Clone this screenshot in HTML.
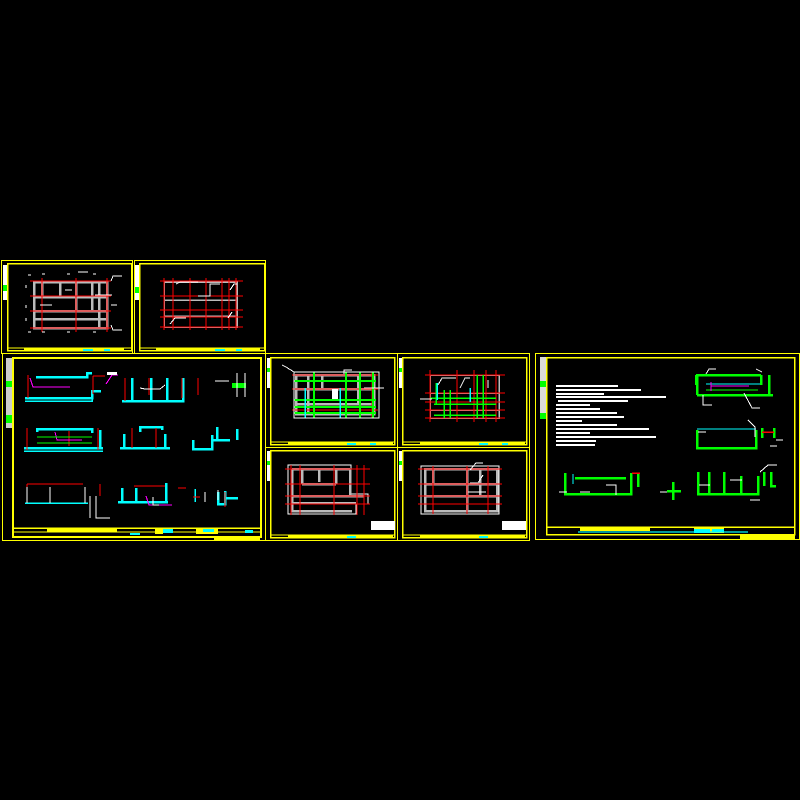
<!DOCTYPE html>
<html><head><meta charset="utf-8"><style>
html,body{margin:0;padding:0;background:#000;width:800px;height:800px;overflow:hidden}
svg{display:block}
</style></head><body>
<svg width="800" height="800" viewBox="0 0 800 800" xmlns="http://www.w3.org/2000/svg" shape-rendering="crispEdges" fill="none">
<rect width="800" height="800" fill="#000"/>

<!-- ===== Sheet A ===== -->
<g stroke="#ff0" stroke-width="1">
<rect x="1.5" y="260.5" width="131" height="93"/>
<rect x="7.5" y="263.5" width="124" height="87" stroke-width="1.5"/>
<line x1="7" y1="348" x2="131" y2="348"/>
</g>
<rect x="24" y="348" width="100" height="3" fill="#ff0"/>
<rect x="83" y="349" width="10" height="2" fill="#0ff"/><rect x="104" y="349" width="6" height="2" fill="#0ff"/>
<rect x="3" y="265" width="4" height="35" fill="#fff"/><rect x="3" y="285" width="4" height="6" fill="#0f0"/>
<g stroke="#bbb" stroke-width="2.5">
<rect x="34" y="282" width="73" height="46"/>
<line x1="34" y1="297" x2="107" y2="297"/><line x1="34" y1="311" x2="107" y2="311"/><line x1="34" y1="319" x2="107" y2="319"/>
<line x1="42" y1="282" x2="42" y2="297"/><line x1="60" y1="282" x2="60" y2="297"/><line x1="76" y1="282" x2="76" y2="311"/><line x1="92" y1="282" x2="92" y2="311"/><line x1="99" y1="282" x2="99" y2="328"/>
</g>
<g stroke="#f00" stroke-width="1">
<line x1="30" y1="281" x2="111" y2="281"/><line x1="30" y1="296" x2="111" y2="296"/><line x1="30" y1="311" x2="111" y2="311"/><line x1="30" y1="328" x2="111" y2="328"/>
<line x1="42" y1="278" x2="42" y2="332"/><line x1="76" y1="278" x2="76" y2="332"/><line x1="107" y1="278" x2="107" y2="332"/>
</g>
<g stroke="#fff" stroke-width="1">
<path d="M111 281 L113 276 L122 276"/><path d="M111 325 L113 330 L122 330"/><path d="M40 305 L52 305"/><path d="M65 290 L72 290"/><path d="M95 295 L112 295"/><path d="M78 272 L88 272"/><path d="M111 305 L117 305"/>
<path d="M28 275 h3 M42 274 h3 M67 274 h3 M93 274 h3 M28 332 h3 M42 332 h3 M67 332 h3 M93 332 h3 M26 285 v3 M26 305 v3 M26 318 v3"/>
</g>

<!-- ===== Sheet B ===== -->
<g stroke="#ff0" stroke-width="1">
<rect x="134.5" y="260.5" width="131" height="93"/>
<rect x="139.5" y="263.5" width="125" height="87" stroke-width="1.5"/>
<line x1="139" y1="348" x2="264" y2="348"/>
</g>
<rect x="156" y="348" width="104" height="3" fill="#ff0"/>
<rect x="215" y="349" width="10" height="2" fill="#0ff"/><rect x="236" y="349" width="6" height="2" fill="#0ff"/>
<rect x="135" y="265" width="4" height="35" fill="#fff"/><rect x="135" y="287" width="4" height="6" fill="#0f0"/>
<g stroke="#bbb" stroke-width="1.5">
<rect x="164" y="282" width="73" height="45"/>
<line x1="164" y1="300" x2="237" y2="300"/><line x1="164" y1="316" x2="237" y2="316"/>
</g>
<g stroke="#f00" stroke-width="1.2">
<line x1="160" y1="281" x2="243" y2="281"/><line x1="160" y1="296" x2="243" y2="296"/><line x1="160" y1="310" x2="243" y2="310"/><line x1="160" y1="317" x2="243" y2="317"/><line x1="160" y1="327" x2="243" y2="327"/>
<line x1="164" y1="278" x2="164" y2="330"/><line x1="173" y1="278" x2="173" y2="330"/><line x1="190" y1="278" x2="190" y2="330"/><line x1="206" y1="278" x2="206" y2="330"/><line x1="222" y1="278" x2="222" y2="330"/><line x1="229" y1="278" x2="229" y2="330"/><line x1="236" y1="278" x2="236" y2="330"/>
</g>
<g stroke="#fff" stroke-width="1"><path d="M176 284 L180 282 L198 282"/><path d="M198 296 L210 296 L210 284 L220 284"/><path d="M170 324 L175 318 L186 318"/><path d="M230 290 L234 284 L237 284"/><path d="M228 318 L232 312"/></g>

<!-- ===== Sheet C ===== -->
<g stroke="#ff0" stroke-width="1">
<rect x="2.5" y="353.5" width="263" height="187"/>
<rect x="13" y="358" width="248" height="179" stroke-width="2"/>
<line x1="13" y1="528" x2="261" y2="528" stroke-width="1.5"/>
<line x1="13" y1="532" x2="261" y2="532"/>
</g>
<rect x="47" y="528" width="70" height="4" fill="#ff0"/><rect x="155" y="528" width="8" height="6" fill="#ff0"/>
<rect x="163" y="529" width="10" height="4" fill="#0ff"/><rect x="196" y="528" width="22" height="6" fill="#ff0"/>
<rect x="203" y="529" width="11" height="3" fill="#0ff"/><rect x="245" y="530" width="8" height="3" fill="#0ff"/>
<rect x="130" y="533" width="10" height="2" fill="#0ff"/><rect x="214" y="536" width="46" height="4" fill="#ff0"/>
<rect x="6" y="358" width="6" height="70" fill="#fff" opacity="0.8"/><rect x="6" y="381" width="6" height="6" fill="#0f0"/><rect x="6" y="415" width="6" height="8" fill="#0f0"/>
<g stroke="#0ff" stroke-width="2.5">
<path d="M25 398 H92 V391 H101 M36 377 H87 V373 H92"/>
<path d="M122 401 H183 V378"/><line x1="132" y1="378" x2="132" y2="401"/><line x1="151" y1="378" x2="151" y2="401"/><line x1="167" y1="378" x2="167" y2="401"/>
<path d="M24 448 H103"/><path d="M37 432 V429 H92 V433"/><line x1="100" y1="430" x2="100" y2="448"/>
<path d="M120 448 H170"/><path d="M124 434 V448 M140 432 V427 H162 V430 M165 434 V448"/>
<path d="M193 440 V449 H212 V435 M212 440 H230"/><line x1="217" y1="427" x2="217" y2="441"/><line x1="237" y1="429" x2="237" y2="440"/>
<path d="M118 502 H168"/><path d="M122 488 V502 M166 483 V502 M136 488 V502"/>
<path d="M218 492 V504 H225 V491 M226 498 H238"/>
</g>
<g stroke="#0ff" stroke-width="1.5"><path d="M25 401 H92 V395"/><path d="M24 451 H103"/><path d="M25 503 H88"/><line x1="195" y1="489" x2="195" y2="502"/></g>
<g stroke="#f00" stroke-width="1.2">
<line x1="28" y1="375" x2="28" y2="398"/><line x1="93" y1="376" x2="93" y2="394"/><path d="M93 376 H105"/>
<line x1="125" y1="378" x2="125" y2="401"/><line x1="149" y1="378" x2="149" y2="395"/><line x1="182" y1="378" x2="182" y2="398"/><line x1="198" y1="378" x2="198" y2="395"/>
<line x1="27" y1="428" x2="27" y2="450"/><line x1="98" y1="428" x2="98" y2="450"/><line x1="69" y1="431" x2="69" y2="446"/>
<line x1="132" y1="428" x2="132" y2="448"/><line x1="156" y1="428" x2="156" y2="448"/>
<line x1="27" y1="484" x2="27" y2="502"/><path d="M27 484 H83"/><line x1="100" y1="484" x2="100" y2="496"/>
<path d="M134 486 H165"/><path d="M178 488 H186"/>
<line x1="193" y1="497" x2="200" y2="497"/><line x1="225" y1="492" x2="225" y2="507"/>
</g>
<g stroke="#f0f" stroke-width="1"><path d="M30 378 L33 387 H70"/><path d="M55 432 L57 440 H82"/><path d="M146 496 L149 505 H172"/><path d="M106 384 L112 375 H118"/></g>
<g stroke="#0f0" stroke-width="1"><line x1="37" y1="437" x2="92" y2="437"/><line x1="37" y1="443" x2="92" y2="443"/></g>
<rect x="107" y="372" width="10" height="3" fill="#fff"/><rect x="232" y="383" width="14" height="5" fill="#0f0"/>
<g stroke="#fff" stroke-width="1">
<path d="M140 388 L145 389 H160 L165 385"/><path d="M215 381 H229"/><line x1="237" y1="373" x2="237" y2="397"/><line x1="245" y1="373" x2="245" y2="397"/>
<path d="M27 487 V503 M50 487 V503 M85 487 V503"/><path d="M90 496 V518 M96 496 V518 H110"/>
<path d="M153 497 V505 H159"/><path d="M205 492 V502 M218 490 V500"/>
</g>

<!-- ===== Sheet D (four subsheets) ===== -->
<g stroke="#ff0" stroke-width="1">
<rect x="265.5" y="353.5" width="264" height="187"/>
<line x1="397.5" y1="353" x2="397.5" y2="541"/><line x1="265" y1="447.5" x2="530" y2="447.5"/>
<rect x="270.5" y="357.5" width="124" height="87" stroke-width="1.5"/>
<rect x="402.5" y="357.5" width="124" height="87" stroke-width="1.5"/>
<rect x="270.5" y="450.5" width="124" height="87" stroke-width="1.5"/>
<rect x="402.5" y="450.5" width="124" height="87" stroke-width="1.5"/>
<line x1="270" y1="442" x2="395" y2="442"/><line x1="402" y1="442" x2="527" y2="442"/>
<line x1="270" y1="535" x2="395" y2="535"/><line x1="402" y1="535" x2="527" y2="535"/>
</g>
<g fill="#ff0"><rect x="288" y="442" width="105" height="3"/><rect x="420" y="442" width="105" height="3"/><rect x="288" y="535" width="105" height="3"/><rect x="420" y="535" width="105" height="3"/></g>
<g fill="#0ff"><rect x="347" y="443" width="9" height="2"/><rect x="370" y="443" width="6" height="2"/><rect x="479" y="443" width="9" height="2"/><rect x="502" y="443" width="6" height="2"/><rect x="347" y="536" width="9" height="2"/><rect x="479" y="536" width="9" height="2"/></g>
<g fill="#fff"><rect x="267" y="358" width="3" height="30"/><rect x="399" y="358" width="3" height="30"/><rect x="267" y="451" width="3" height="30"/><rect x="399" y="451" width="3" height="30"/></g>
<g fill="#0f0"><rect x="267" y="368" width="3" height="4"/><rect x="399" y="368" width="3" height="4"/><rect x="267" y="461" width="3" height="4"/><rect x="399" y="461" width="3" height="4"/></g>
<!-- D1 -->
<g stroke="#bbb" stroke-width="2.5"><rect x="296" y="375" width="78" height="39"/><line x1="296" y1="389" x2="374" y2="389"/><line x1="296" y1="404" x2="374" y2="404"/><line x1="308" y1="375" x2="308" y2="414"/><line x1="322" y1="375" x2="322" y2="389"/><line x1="358" y1="375" x2="358" y2="404"/></g>
<g stroke="#f00" stroke-width="1"><line x1="292" y1="375" x2="378" y2="375"/><line x1="292" y1="389" x2="378" y2="389"/><line x1="292" y1="410" x2="378" y2="410"/><line x1="372" y1="372" x2="372" y2="418"/></g>
<g stroke="#0f0" stroke-width="2"><line x1="294" y1="381" x2="376" y2="381"/><line x1="294" y1="400" x2="376" y2="400"/><line x1="294" y1="407" x2="376" y2="407"/><line x1="294" y1="413" x2="376" y2="413"/><line x1="314" y1="372" x2="314" y2="418"/><line x1="346" y1="372" x2="346" y2="418"/><line x1="360" y1="372" x2="360" y2="418"/><line x1="373" y1="372" x2="373" y2="418"/></g>
<g stroke="#0ff" stroke-width="1.5"><line x1="305" y1="388" x2="305" y2="418"/><line x1="340" y1="388" x2="340" y2="418"/></g>
<rect x="332" y="389" width="6" height="10" fill="#fff"/>
<g stroke="#fff" stroke-width="1"><rect x="294" y="372" width="85" height="46"/><path d="M282 365 L286 367 L294 372"/><path d="M344 374 V370 H352"/><path d="M364 388 H384"/></g>
<!-- D2 -->
<g stroke="#bbb" stroke-width="1.5"><rect x="430" y="375" width="69" height="43"/><line x1="430" y1="393" x2="499" y2="393"/><line x1="430" y1="410" x2="499" y2="410"/></g>
<g stroke="#f00" stroke-width="1.2"><line x1="425" y1="375" x2="505" y2="375"/><line x1="425" y1="393" x2="505" y2="393"/><line x1="425" y1="402" x2="505" y2="402"/><line x1="425" y1="410" x2="505" y2="410"/><line x1="425" y1="418" x2="505" y2="418"/><line x1="430" y1="370" x2="430" y2="422"/><line x1="457" y1="370" x2="457" y2="422"/><line x1="474" y1="370" x2="474" y2="422"/><line x1="486" y1="370" x2="486" y2="422"/><line x1="496" y1="370" x2="496" y2="422"/></g>
<g stroke="#0f0" stroke-width="1.5"><line x1="430" y1="398" x2="496" y2="398"/><line x1="434" y1="404" x2="496" y2="404"/><line x1="434" y1="415" x2="496" y2="415"/><line x1="436" y1="383" x2="436" y2="405"/><line x1="444" y1="390" x2="444" y2="418"/><line x1="450" y1="390" x2="450" y2="418"/><line x1="477" y1="375" x2="477" y2="418"/><line x1="483" y1="375" x2="483" y2="418"/></g>
<g stroke="#0ff" stroke-width="1.5"><line x1="437" y1="383" x2="437" y2="400"/><line x1="470" y1="388" x2="470" y2="402"/></g>
<g stroke="#fff" stroke-width="1"><path d="M438 385 L442 378 H456"/><path d="M460 388 L465 378 H470"/><path d="M488 388 V380"/><path d="M420 399 H432"/></g>
<!-- D3 -->
<g stroke="#fff" stroke-width="1"><path d="M288 465 H351 V494 H368 V504 H356 V514 H288 Z"/></g>
<g stroke="#bbb" stroke-width="2.5"><path d="M292 469 H350 M292 469 V511 H352 M302 469 V484 M319 469 V482 M336 469 V484 M302 484 H336 M292 496 H364 M292 503 H356 M350 469 V495"/></g>
<g stroke="#f00" stroke-width="1"><line x1="285" y1="469" x2="370" y2="469"/><line x1="285" y1="484" x2="370" y2="484"/><line x1="285" y1="496" x2="370" y2="496"/><line x1="285" y1="504" x2="370" y2="504"/><line x1="291" y1="465" x2="291" y2="515"/><line x1="300" y1="465" x2="300" y2="515"/><line x1="334" y1="465" x2="334" y2="515"/><line x1="357" y1="465" x2="357" y2="515"/><line x1="364" y1="465" x2="364" y2="515"/></g>
<rect x="371" y="521" width="24" height="9" fill="#fff"/>
<!-- D4 -->
<g stroke="#fff" stroke-width="1"><rect x="421" y="466" width="78" height="48"/></g>
<g stroke="#bbb" stroke-width="2.5"><path d="M425 469 H497 V511 H425 Z M425 484 H497 M425 496 H497 M433 469 V484 M467 469 V511 M480 469 V496"/></g>
<g stroke="#f00" stroke-width="1"><line x1="418" y1="469" x2="502" y2="469"/><line x1="418" y1="484" x2="502" y2="484"/><line x1="418" y1="496" x2="502" y2="496"/><line x1="418" y1="504" x2="502" y2="504"/><line x1="433" y1="466" x2="433" y2="514"/><line x1="467" y1="466" x2="467" y2="514"/><line x1="488" y1="466" x2="488" y2="514"/></g>
<g stroke="#fff" stroke-width="1"><path d="M470 470 L476 463 H483"/><path d="M470 483 H478 L483 475"/><path d="M468 492 H486"/></g>
<rect x="502" y="521" width="24" height="9" fill="#fff"/>

<!-- ===== Sheet E ===== -->
<g stroke="#ff0" stroke-width="1">
<rect x="535.5" y="353.5" width="264" height="186"/>
<rect x="546.5" y="357.5" width="248" height="177" stroke-width="1.5"/>
<line x1="546" y1="527" x2="795" y2="527" stroke-width="1.5"/>
</g>
<rect x="580" y="527" width="70" height="4" fill="#ff0"/><rect x="694" y="528" width="30" height="5" fill="#ff0"/>
<rect x="694" y="529" width="16" height="4" fill="#0ff"/><rect x="712" y="529" width="12" height="3" fill="#0ff"/>
<rect x="740" y="535" width="55" height="4" fill="#ff0"/><rect x="578" y="531" width="170" height="2" fill="#0ff" opacity="0.6"/>
<rect x="540" y="357" width="6" height="60" fill="#fff" opacity="0.85"/><rect x="540" y="381" width="6" height="6" fill="#0f0"/><rect x="540" y="413" width="6" height="6" fill="#0f0"/>
<g stroke="#fff" stroke-width="1.6">
<line x1="556" y1="386" x2="618" y2="386"/><line x1="556" y1="390" x2="641" y2="390"/><line x1="556" y1="394" x2="604" y2="394"/><line x1="556" y1="397" x2="666" y2="397"/><line x1="558" y1="401" x2="628" y2="401"/><line x1="556" y1="405" x2="590" y2="405"/><line x1="556" y1="409" x2="600" y2="409"/><line x1="556" y1="413" x2="617" y2="413"/><line x1="556" y1="417" x2="624" y2="417"/><line x1="556" y1="421" x2="582" y2="421"/><line x1="556" y1="425" x2="617" y2="425"/><line x1="556" y1="429" x2="649" y2="429"/><line x1="556" y1="433" x2="590" y2="433"/><line x1="556" y1="437" x2="656" y2="437"/><line x1="556" y1="441" x2="596" y2="441"/><line x1="556" y1="445" x2="595" y2="445"/>
</g>
<g stroke="#0f0" stroke-width="2.5">
<path d="M696 375 H761 M696 375 V385 M761 375 V385 M697 395 H773 M697 375 V395 M769 375 V395"/>
<path d="M697 430 V448 H756 V430 M762 428 V438 M774 428 V438"/>
<path d="M565 473 V494 H631 V473 M575 478 H626 M638 474 V487"/>
<path d="M667 491 H681 M673 482 V500"/>
<path d="M698 472 V494 H758 V476 M709 472 V494 M724 472 V494 M741 476 V494 H758 M764 472 V486 M771 472 V486 H776"/>
</g>
<g stroke="#0ff" stroke-width="1"><line x1="706" y1="384" x2="760" y2="384"/><line x1="697" y1="429" x2="756" y2="429"/><line x1="573" y1="474" x2="573" y2="484"/></g>
<g stroke="#0f0" stroke-width="1"><line x1="706" y1="390" x2="758" y2="390"/></g>
<g stroke="#f0f" stroke-width="1"><line x1="711" y1="386" x2="749" y2="386"/><line x1="711" y1="382" x2="711" y2="391"/></g>
<g stroke="#f00" stroke-width="1.5"><line x1="762" y1="432" x2="774" y2="432"/><line x1="632" y1="473" x2="640" y2="473"/></g>
<g stroke="#fff" stroke-width="1">
<path d="M706 374 L709 369 H716"/><path d="M756 369 L762 372"/><path d="M744 393 L752 408 H760"/><path d="M703 395 V405 H712"/>
<path d="M748 420 L755 427 V437"/><path d="M698 432 H706"/><path d="M776 440 H783"/><path d="M770 446 H777"/>
<path d="M559 492 H567"/><path d="M580 492 H590 M606 485 H616 V495"/><path d="M660 492 H667"/>
<path d="M760 472 L768 465 H777"/><path d="M699 485 H710 M730 480 H742"/><path d="M750 500 H760"/>
</g>
</svg>
</body></html>
